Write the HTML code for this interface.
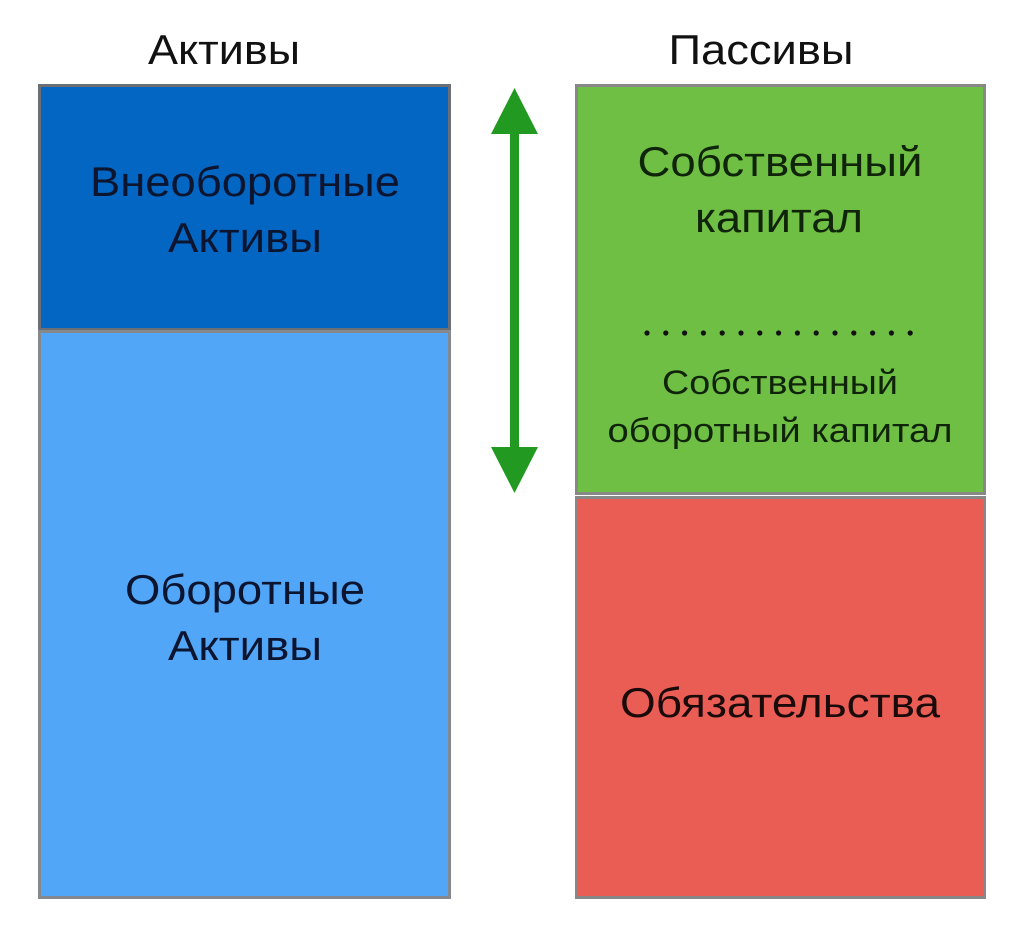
<!DOCTYPE html>
<html><head><meta charset="utf-8"><style>body{margin:0;background:#fff}svg{display:block}</style></head><body>
<svg width="1024" height="942" xmlns="http://www.w3.org/2000/svg" font-family="Liberation Sans, DejaVu Sans, sans-serif" text-anchor="middle" fill="#111">
<rect x="0" y="0" width="1024" height="942" fill="#fff"/>
<text x="224" y="64" font-size="42" textLength="152" lengthAdjust="spacingAndGlyphs">Активы</text>
<text x="761" y="64" font-size="42" textLength="185" lengthAdjust="spacingAndGlyphs">Пассивы</text>
<rect x="39.5" y="85.5" width="410" height="244" fill="#0366c3" stroke="#6b6e73" stroke-width="3"/>
<rect x="39.5" y="331.5" width="410" height="566" fill="#51a6f7" stroke="#85888c" stroke-width="3"/>
<rect x="576.5" y="85.5" width="408" height="408" fill="#6fbf44" stroke="#888" stroke-width="3"/>
<rect x="576.5" y="497.5" width="408" height="400" fill="#e95d55" stroke="#888" stroke-width="3"/>
<g fill="#0b1530">
<text x="245" y="196" font-size="42" textLength="310" lengthAdjust="spacingAndGlyphs">Внеоборотные</text>
<text x="245" y="252" font-size="42" textLength="154" lengthAdjust="spacingAndGlyphs">Активы</text>
<text x="245" y="604" font-size="42" textLength="240" lengthAdjust="spacingAndGlyphs">Оборотные</text>
<text x="245" y="660" font-size="42" textLength="154" lengthAdjust="spacingAndGlyphs">Активы</text>
</g>
<g fill="#10240a">
<text x="780" y="176" font-size="42" textLength="285" lengthAdjust="spacingAndGlyphs">Собственный</text>
<text x="779" y="232" font-size="42" textLength="168" lengthAdjust="spacingAndGlyphs">капитал</text>
<text x="780" y="394" font-size="34" textLength="236" lengthAdjust="spacingAndGlyphs">Собственный</text>
<text x="780" y="442" font-size="34" textLength="345" lengthAdjust="spacingAndGlyphs">оборотный капитал</text>
</g>
<text x="780" y="717" font-size="42" textLength="320" lengthAdjust="spacingAndGlyphs" fill="#1a0a0a">Обязательства</text>
<g fill="#111">
<circle cx="647" cy="333" r="2.6"/><circle cx="665.8" cy="333" r="2.6"/><circle cx="684.6" cy="333" r="2.6"/><circle cx="703.4" cy="333" r="2.6"/><circle cx="722.2" cy="333" r="2.6"/><circle cx="741" cy="333" r="2.6"/><circle cx="759.8" cy="333" r="2.6"/><circle cx="778.6" cy="333" r="2.6"/><circle cx="797.4" cy="333" r="2.6"/><circle cx="816.2" cy="333" r="2.6"/><circle cx="835" cy="333" r="2.6"/><circle cx="853.8" cy="333" r="2.6"/><circle cx="872.6" cy="333" r="2.6"/><circle cx="891.4" cy="333" r="2.6"/><circle cx="910.2" cy="333" r="2.6"/>
</g>
<g fill="#229a22">
<rect x="510" y="130" width="9" height="320"/>
<polygon points="514.5,88 491,134 538,134"/>
<polygon points="514.5,493 491,447 538,447"/>
</g>
</svg>
</body></html>
